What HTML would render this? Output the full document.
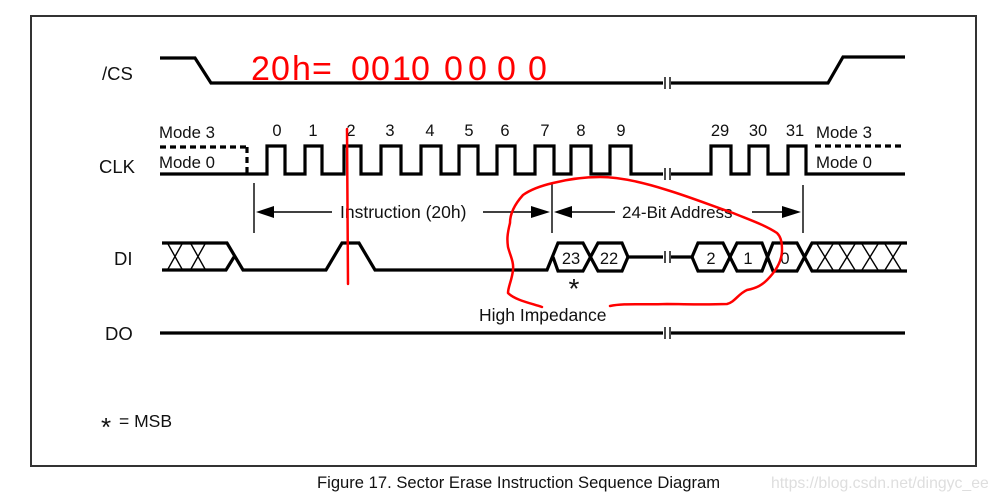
<!DOCTYPE html>
<html><head><meta charset="utf-8"><style>
html,body{margin:0;padding:0;background:#fff}
svg{display:block}
text{font-family:"Liberation Sans",sans-serif;fill:#111}
</style></head><body>
<svg width="999" height="501" viewBox="0 0 999 501" xmlns="http://www.w3.org/2000/svg">
<rect x="0" y="0" width="999" height="501" fill="#fff"/>
<rect x="31" y="16" width="945" height="450" fill="none" stroke="#333" stroke-width="2"/>
<g fill="none" stroke="#000" stroke-width="3.200">
<path d="M160 58H195L211 83H663M671 83H828L843 57H905"/>
<path d="M160 174H267V146H285V174H305V146H322V174H344V146H361V174H381V146H401V174H421V146H441V174H459V146H478V174H497V146H515V174H535V146H554V174H571V146H591V174H610V146H631V174H663M671 174H711V146H731V174H749V146H768V174H788V146H806V174H905"/>
<path d="M160 147H247M815 146H905M247 147V174" stroke-dasharray="6 4"/>
<path d="M162 243H227L243 270H326L342 243H359L375 270H547L558 243H583L598 271H622L628 257H663M671 257H692L698 243H723L737 271H762L773 243H797L812 271H907"/>
<path d="M162 270H226L234 257M553 257L558 271H583L598 243H622L628 257M692 257L698 271H723L737 243H762L773 271H797L812 243H907"/>
<path d="M160 333H663M671 333H905"/>
</g>
<g fill="none" stroke="#000" stroke-width="1.400">
<path d="M168 244L182 269M182 244L168 269M191 244L205 269M205 244L191 269"/>
<path d="M817 244L833 270M833 244L817 270M839 244L855 270M855 244L839 270M862 244L878 270M878 244L862 270M885 244L901 270M901 244L885 270"/>
<path d="M254 183V233M552 183V233M803 185V233"/>
<path d="M270 212H332M483 212H535M568 212H615M752 212H786"/>
<path d="M665 77V89M670 77V89M665 168V180M670 168V180M665 251V263M670 251V263M665 327V339M670 327V339"/>
</g>
<g fill="#000">
<path d="M256 212L274 206V218Z"/><path d="M550 212L531 206V218Z"/>
<path d="M554 212L572 206V218Z"/><path d="M801 212L782 206V218Z"/>
</g>
<g font-size="18.500">
<text x="102" y="80">/CS</text>
<text x="99" y="173">CLK</text>
<text x="114" y="265">DI</text>
<text x="105" y="340">DO</text>
</g>
<g font-size="16.800">
<text x="159" y="138">Mode 3</text>
<text x="159" y="168">Mode 0</text>
<text x="816" y="138">Mode 3</text>
<text x="816" y="168">Mode 0</text>
</g>
<g font-size="17.500">
<text x="340" y="218">Instruction (20h)</text>
<text x="622" y="218" font-size="17">24-Bit Address</text>
<text x="479" y="321">High Impedance</text>
<text x="119" y="427">= MSB</text>
</g>
<g font-size="16.500" text-anchor="middle">
<text x="277" y="136">0</text><text x="313" y="136">1</text><text x="351" y="136">2</text>
<text x="390" y="136">3</text><text x="430" y="136">4</text><text x="469" y="136">5</text>
<text x="505" y="136">6</text><text x="545" y="136">7</text><text x="581" y="136">8</text>
<text x="621" y="136">9</text><text x="720" y="136">29</text><text x="758" y="136">30</text>
<text x="795" y="136">31</text>
<text x="571" y="264">23</text><text x="609" y="264">22</text>
<text x="711" y="264">2</text><text x="748" y="264">1</text><text x="785" y="264">0</text>
</g>
<text x="574" y="298" font-size="28" text-anchor="middle">*</text>
<text x="106" y="436" font-size="26" text-anchor="middle">*</text>
<text x="317" y="488" font-size="16.600">Figure 17. Sector Erase Instruction Sequence Diagram</text>
<text x="771" y="488" font-size="15.800" style="fill:#dedede">https://blog.csdn.net/dingyc_ee</text>
<g fill="none" stroke="#f00" stroke-width="2.500" stroke-linecap="round" stroke-linejoin="round">
<path d="M347 129L348 284"/>
<path d="M610 306C625 303 640 305 667 304C685 304 700 305 727 304C735 302 738 294 747 290C757 288 762 285 767 280C777 270 782 260 782 250C782 240 780 236 777 233C765 225 750 220 733 213C710 205 690 197 667 190C645 183 620 177 600 177C580 177 565 180 553 183C540 186 530 190 523 195C514 205 510 215 510 223C507 235 507 240 508 247C510 255 514 262 513 270C512 280 508 287 508 293C515 300 530 303 542 307"/>
</g>
<text font-size="34" style="fill:#f00" x="251 271 292 312 351 371 392 411 444 468 497 528" y="80">20h=00100000</text>
</svg>
</body></html>
